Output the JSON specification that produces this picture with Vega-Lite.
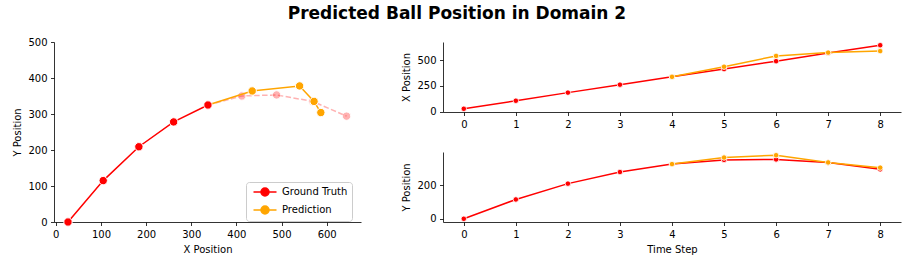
{
  "$schema": "https://vega.github.io/schema/vega-lite/v6.json",
  "padding": {"left": 12, "top": 5, "right": 5, "bottom": 5},
  "title": {"text": "Predicted Ball Position in Domain 2", "font": "DejaVu Sans", "fontSize": 17, "fontWeight": "bold", "color": "black", "anchor": "middle", "offset": 14},
  "config": {
    "font": "DejaVu Sans",
    "view": {"stroke": null},
    "axis": {"grid": false, "domainColor": "black", "domainWidth": 0.8, "tickColor": "black", "tickWidth": 0.8, "tickSize": 3.5, "labelPadding": 3.5, "labelFontSize": 10, "labelColor": "black", "labelFont": "DejaVu Sans", "titleFont": "DejaVu Sans", "titleFontSize": 10, "titleFontWeight": "normal", "titleColor": "black", "titlePadding": 5}
  },
  "datasets": {
    "d": [
      {"t": 0, "series": "Ground Truth", "x": 27, "y": 0},
      {"t": 1, "series": "Ground Truth", "x": 105, "y": 115},
      {"t": 2, "series": "Ground Truth", "x": 184, "y": 209},
      {"t": 3, "series": "Ground Truth", "x": 261, "y": 278},
      {"t": 4, "series": "Ground Truth", "x": 337, "y": 325},
      {"t": 5, "series": "Ground Truth", "x": 412, "y": 350},
      {"t": 6, "series": "Ground Truth", "x": 489, "y": 353},
      {"t": 7, "series": "Ground Truth", "x": 569, "y": 335},
      {"t": 8, "series": "Ground Truth", "x": 644, "y": 294},
      {"t": 4, "series": "Prediction", "x": 337, "y": 325},
      {"t": 5, "series": "Prediction", "x": 435, "y": 364},
      {"t": 6, "series": "Prediction", "x": 540, "y": 378},
      {"t": 7, "series": "Prediction", "x": 572, "y": 335},
      {"t": 8, "series": "Prediction", "x": 587, "y": 304}
    ]
  },
  "spacing": 40,
  "hconcat": [
    {
      "width": 307,
      "height": 180,
      "data": {"name": "d"},
      "encoding": {
        "x": {"field": "x", "type": "quantitative", "scale": {"domain": [-4, 676], "nice": false, "zero": false}, "axis": {"values": [0, 100, 200, 300, 400, 500, 600], "title": "X Position"}},
        "y": {"field": "y", "type": "quantitative", "scale": {"domain": [0, 500], "nice": false}, "axis": {"values": [0, 100, 200, 300, 400, 500], "title": "Y Position"}},
        "order": {"field": "t"}
      },
      "layer": [
        {"transform": [{"filter": "datum.series == 'Ground Truth' && datum.t >= 4"}], "mark": {"type": "line", "color": "#ff0000", "opacity": 0.3, "strokeDash": [5.5, 2.4], "strokeWidth": 1.5}},
        {"transform": [{"filter": "datum.series == 'Ground Truth' && datum.t >= 5"}], "mark": {"type": "circle", "size": 70, "color": "#ff0000", "opacity": 0.3, "stroke": "white", "strokeWidth": 1}},
        {"transform": [{"filter": "datum.series == 'Prediction'"}], "mark": {"type": "line", "strokeWidth": 1.5},
          "encoding": {"color": {"field": "series", "type": "nominal", "scale": {"domain": ["Ground Truth", "Prediction"], "range": ["#ff0000", "#ffa500"]},
            "legend": {"orient": "none", "legendX": 192, "legendY": 140, "title": null, "labelFontSize": 10, "labelFont": "DejaVu Sans", "labelColor": "black",
              "symbolType": "M-2.3,0 L2.3,0 M0.8,0 A0.8,0.8 0 1 1 -0.8,0 A0.8,0.8 0 1 1 0.8,0 Z", "symbolSize": 100, "symbolStrokeWidth": 1.5,
              "symbolOffset": 9, "labelOffset": 11,
              "strokeColor": "#cccccc", "fillColor": "rgba(255,255,255,0.8)", "cornerRadius": 3, "padding": 4, "rowPadding": 4,
              "encode": {"symbols": {"update": {"fill": {"signal": "datum.value == 'Ground Truth' ? '#ff0000' : '#ffa500'"}, "stroke": {"signal": "datum.value == 'Ground Truth' ? '#ff0000' : '#ffa500'"}, "opacity": {"value": 1}}}}}}}},
        {"transform": [{"filter": "datum.series == 'Prediction' && datum.t >= 5"}], "mark": {"type": "circle", "size": 70, "opacity": 1, "stroke": "white", "strokeWidth": 1},
          "encoding": {"color": {"field": "series", "type": "nominal"}}},
        {"transform": [{"filter": "datum.series == 'Ground Truth' && datum.t <= 4"}], "mark": {"type": "line", "strokeWidth": 1.5},
          "encoding": {"color": {"field": "series", "type": "nominal"}}},
        {"transform": [{"filter": "datum.series == 'Ground Truth' && datum.t <= 4"}], "mark": {"type": "circle", "size": 70, "opacity": 1, "stroke": "white", "strokeWidth": 1},
          "encoding": {"color": {"field": "series", "type": "nominal"}}}
      ]
    },
    {
      "spacing": 21,
      "vconcat": [
        {
          "width": 458,
          "height": 70,
          "data": {"name": "d"},
          "encoding": {
            "x": {"field": "t", "type": "quantitative", "scale": {"domain": [-0.4, 8.4], "nice": false, "zero": false}, "axis": {"values": [0, 1, 2, 3, 4, 5, 6, 7, 8], "title": null}},
            "y": {"field": "x", "type": "quantitative", "scale": {"domain": [-4, 675], "nice": false, "zero": false}, "axis": {"values": [0, 250, 500], "title": "X Position"}},
            "order": {"field": "t"}
          },
          "layer": [
            {"transform": [{"filter": "datum.series == 'Ground Truth'"}], "mark": {"type": "line", "color": "#ff0000", "strokeWidth": 1.5}},
            {"transform": [{"filter": "datum.series == 'Ground Truth'"}], "mark": {"type": "circle", "color": "#ff0000", "opacity": 1, "size": 30, "stroke": "white", "strokeWidth": 0.8}},
            {"transform": [{"filter": "datum.series == 'Prediction'"}], "mark": {"type": "line", "color": "#ffa500", "strokeWidth": 1.5}},
            {"transform": [{"filter": "datum.series == 'Prediction'"}], "mark": {"type": "circle", "color": "#ffa500", "opacity": 1, "size": 30, "stroke": "white", "strokeWidth": 0.8}}
          ]
        },
        {
          "width": 458,
          "height": 70,
          "data": {"name": "d"},
          "encoding": {
            "x": {"field": "t", "type": "quantitative", "scale": {"domain": [-0.4, 8.4], "nice": false, "zero": false}, "axis": {"values": [0, 1, 2, 3, 4, 5, 6, 7, 8], "title": "Time Step"}},
            "y": {"field": "y", "type": "quantitative", "scale": {"domain": [-19, 397], "nice": false, "zero": false}, "axis": {"values": [0, 200], "title": "Y Position"}},
            "order": {"field": "t"}
          },
          "layer": [
            {"transform": [{"filter": "datum.series == 'Ground Truth'"}], "mark": {"type": "line", "color": "#ff0000", "strokeWidth": 1.5}},
            {"transform": [{"filter": "datum.series == 'Ground Truth'"}], "mark": {"type": "circle", "color": "#ff0000", "opacity": 1, "size": 30, "stroke": "white", "strokeWidth": 0.8}},
            {"transform": [{"filter": "datum.series == 'Prediction'"}], "mark": {"type": "line", "color": "#ffa500", "strokeWidth": 1.5}},
            {"transform": [{"filter": "datum.series == 'Prediction'"}], "mark": {"type": "circle", "color": "#ffa500", "opacity": 1, "size": 30, "stroke": "white", "strokeWidth": 0.8}}
          ]
        }
      ]
    }
  ]
}
